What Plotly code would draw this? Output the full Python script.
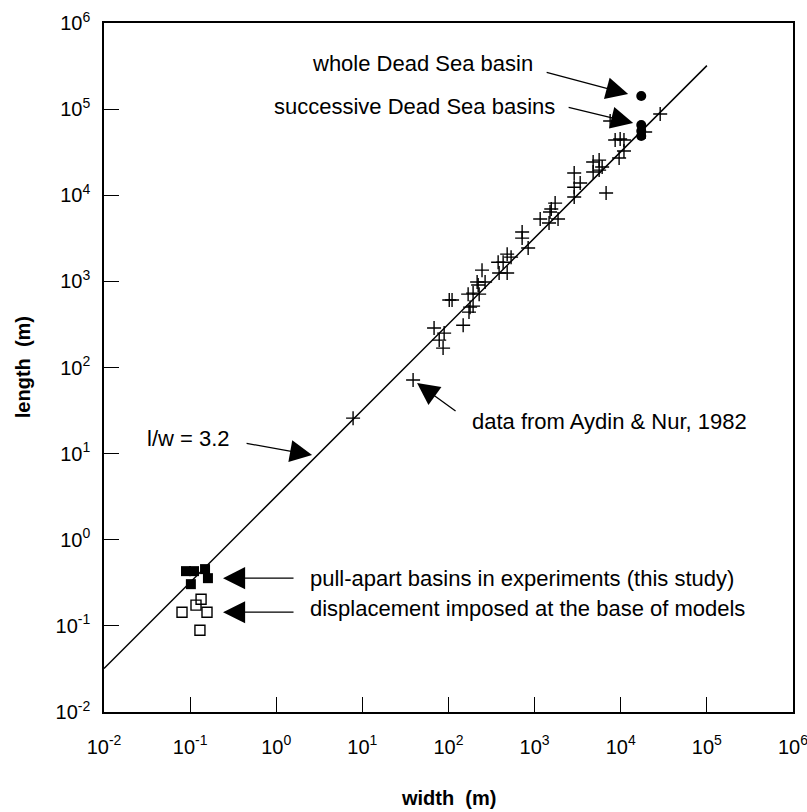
import plotly.graph_objects as go

# Aydin & Nur (1982) pull-apart basins: width (m), length (m)
aydin_width = [28700, 19200, 7530, 8610, 9840, 10900, 10900, 9570, 4780, 5610,
               6080, 4780, 5610, 6760, 2880, 3380, 2880, 2880, 1730, 1560,
               1510, 1160, 1470, 1870, 716, 716, 841, 480, 533, 377,
               431, 387, 480, 245, 215, 266, 221, 169, 193, 227,
               102, 110, 178, 193, 173, 148, 68, 89, 78, 86.5,
               38.8, 7.8]
aydin_length = [87700, 54200, 72800, 43800, 45000, 43800, 32600, 27100, 24300, 25600,
                21300, 18600, 19600, 10600, 18100, 13900, 12400, 9530, 8110, 6910,
                6380, 5290, 4760, 5290, 3740, 3180, 2440, 2070, 1910, 1670,
                1670, 1250, 1250, 1350, 982, 982, 906, 711, 731, 711,
                607, 607, 502, 516, 440, 310, 287, 251, 208, 168,
                71.5, 25.8]

# Dead Sea basins
dead_width = [17300, 17300, 17300, 17300]
dead_length = [142000, 65300, 55700, 48700]

# pull-apart basins in experiments (filled squares)
exp_width = [0.0895, 0.111, 0.149, 0.161, 0.102]
exp_length = [0.432, 0.432, 0.456, 0.358, 0.305]

# displacement imposed at base of models (open squares)
disp_width = [0.0805, 0.117, 0.134, 0.157, 0.130]
disp_length = [0.144, 0.174, 0.204, 0.144, 0.089]

# l/w = 3.2 reference line
ratio = 3.2
line_width_vals = [1e-2, 1e5]
line_length_vals = [ratio * w for w in line_width_vals]

tick_exps = [-2, -1, 0, 1, 2, 3, 4, 5, 6]
tick_vals = [10.0 ** e for e in tick_exps]
tick_text = ["10<sup>%d</sup>" % e for e in tick_exps]

FONT = "Liberation Sans, Arial, Helvetica, sans-serif"

fig = go.Figure()
fig.add_trace(go.Scatter(x=line_width_vals, y=line_length_vals, mode="lines",
                         line=dict(color="black", width=1.5), showlegend=False))
fig.add_trace(go.Scatter(x=aydin_width, y=aydin_length, mode="markers",
                         marker=dict(symbol="cross-thin", size=10,
                                     line=dict(color="black", width=1.4)),
                         showlegend=False))
fig.add_trace(go.Scatter(x=dead_width, y=dead_length, mode="markers",
                         marker=dict(symbol="circle", size=10, color="black"),
                         showlegend=False))
fig.add_trace(go.Scatter(x=exp_width, y=exp_length, mode="markers",
                         marker=dict(symbol="square", size=10, color="black"),
                         showlegend=False))
fig.add_trace(go.Scatter(x=disp_width, y=disp_length, mode="markers",
                         marker=dict(symbol="square-open", size=10, color="black",
                                     line=dict(width=1.4)),
                         showlegend=False))

axis_common = dict(type="log", tickmode="array", tickvals=tick_vals, ticktext=tick_text,
                   ticks="inside", ticklen=15, tickwidth=1.3, tickcolor="black",
                   showline=True, linecolor="black", linewidth=1.5, mirror=True,
                   showgrid=False, zeroline=False, automargin=False,
                   ticklabeloverflow="allow",
                   tickfont=dict(family=FONT, size=20, color="black"))

fig.update_xaxes(range=[-2, 6], ticklabelstandoff=16, **axis_common)
fig.update_yaxes(range=[-2, 6], ticklabelstandoff=8, **axis_common)

# axis titles
fig.add_annotation(x=0.5, y=-0.125, xref="paper", yref="paper", showarrow=False,
                   text="<b>width  (m)</b>", xanchor="center", yanchor="middle",
                   font=dict(family=FONT, size=20, color="black"))
fig.add_annotation(x=-0.118, y=0.5, xref="paper", yref="paper", showarrow=False,
                   text="<b>length  (m)</b>", textangle=-90, xanchor="center", yanchor="middle",
                   font=dict(family=FONT, size=20, color="black"))

arrow_style = dict(showarrow=True, arrowhead=2, arrowsize=3.4, arrowwidth=1.3,
                   arrowcolor="black", text="", xref="x", yref="y")
arrows = [
    (4.086, 5.175, -83, -22),
    (4.144, 4.839, -66, -16),
    (1.635, 1.819, 40, 29),
    (0.416, 0.983, -67, -12),
    (-0.618, -0.446, 72, 0),
    (-0.618, -0.841, 72, 0),
]
for (x, y, ax, ay) in arrows:
    fig.add_annotation(x=x, y=y, ax=ax, ay=ay, **arrow_style)

labels = [
    (3.0, 5.535, "whole Dead Sea basin", "right"),
    (3.255, 5.036, "successive Dead Sea basins", "right"),
    (2.251, 1.377, "data from Aydin & Nur, 1982", "left"),
    (-1.524, 1.180, "l/w = 3.2", "left"),
    (0.369, -0.446, "pull-apart basins in experiments (this study)", "left"),
    (0.369, -0.794, "displacement imposed at the base of models", "left"),
]
for (x, y, t, anc) in labels:
    fig.add_annotation(x=x, y=y, text=t, showarrow=False, xref="x", yref="y",
                       xanchor=anc, yanchor="middle",
                       font=dict(family=FONT, size=22, color="black"))

fig.update_layout(width=807, height=812, paper_bgcolor="white", plot_bgcolor="white",
                  margin=dict(l=104, r=14, t=23, b=100), showlegend=False)

fig.write_html("out.html")
